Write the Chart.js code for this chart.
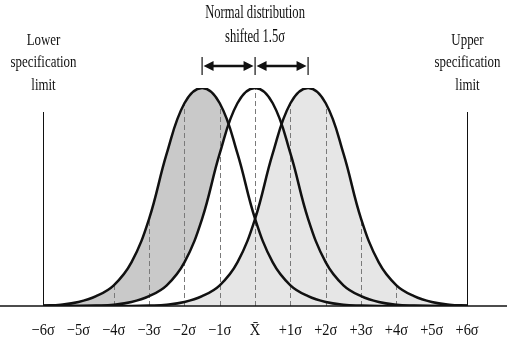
<!DOCTYPE html>
<html>
<head>
<meta charset="utf-8">
<script src="https://cdn.jsdelivr.net/npm/chart.js@4.4.0/dist/chart.umd.min.js"></script>
<style>
  body { margin: 0; background: #fff; }
</style>
</head>
<body>
<canvas id="sixSigma" width="507" height="346"></canvas>
<script>
// positions along the axis, in sigma units
var sigmaX = [-6, -5.5, -5, -4.5, -4, -3.5, -3, -2.5, -2, -1.5, -1, -0.5, 0,
              0.5, 1, 1.5, 2, 2.5, 3, 3.5, 4, 4.5, 5, 5.5, 6];

// curve heights (peak = 1)
var shiftedLeft = [0.002, 0.006, 0.018, 0.045, 0.095, 0.2, 0.4, 0.7, 0.93, 1, 0.93, 0.7, 0.4,
                   0.2, 0.095, 0.045, 0.018, 0.006, 0.002, 0, 0, 0, 0, 0, 0];
var centered = [0, 0, 0, 0.002, 0.006, 0.018, 0.045, 0.095, 0.2, 0.4, 0.7, 0.93, 1,
                0.93, 0.7, 0.4, 0.2, 0.095, 0.045, 0.018, 0.006, 0.002, 0, 0, 0];
var shiftedRight = [0, 0, 0, 0, 0, 0, 0.002, 0.006, 0.018, 0.045, 0.095, 0.2, 0.4,
                    0.7, 0.93, 1, 0.93, 0.7, 0.4, 0.2, 0.095, 0.045, 0.018, 0.006, 0.002];

var tickValues = [-6, -5, -4, -3, -2, -1, 0, 1, 2, 3, 4, 5, 6];
var tickLabels = ['\u22126\u03c3', '\u22125\u03c3', '\u22124\u03c3', '\u22123\u03c3', '\u22122\u03c3', '\u22121\u03c3',
                  'X\u0304', '+1\u03c3', '+2\u03c3', '+3\u03c3', '+4\u03c3', '+5\u03c3', '+6\u03c3'];
var dashedAt = [-4, -3, -2, -1, 0, 1, 2, 3, 4];
var shiftMarks = [-1.5, 0, 1.5];
var specLimits = [-6, 6];

function toPoints(vals) {
    return vals.map(function (v, i) { return { x: sigmaX[i], y: v }; });
}

function condensedText(ctx, text, x, y, size, squeeze) {
    ctx.save();
    ctx.translate(x, y);
    ctx.scale(squeeze, 1);
    ctx.font = size + 'px "Liberation Serif"';
    ctx.fillStyle = '#111';
    ctx.textAlign = 'center';
    ctx.textBaseline = 'middle';
    ctx.fillText(text, 0, 0);
    ctx.restore();
}

function arrowHead(ctx, x, y, dir) {
    ctx.beginPath();
    ctx.moveTo(x, y);
    ctx.lineTo(x - dir * 10, y - 5);
    ctx.lineTo(x - dir * 10, y + 5);
    ctx.closePath();
    ctx.fill();
}

var extras = {
    id: 'extras',
    beforeDatasetsDraw: function (chart) {
        var ctx = chart.ctx, xs = chart.scales.x, ys = chart.scales.y;
        ctx.save();
        ctx.strokeStyle = '#7a7a7a';
        ctx.lineWidth = 1;
        ctx.setLineDash([5, 3]);
        dashedAt.forEach(function (v) {
            var i = sigmaX.indexOf(v);
            var top = Math.max(shiftedLeft[i], centered[i], shiftedRight[i]);
            var px = Math.round(xs.getPixelForValue(v)) + 0.5;
            ctx.beginPath();
            ctx.moveTo(px, ys.getPixelForValue(0));
            ctx.lineTo(px, ys.getPixelForValue(top));
            ctx.stroke();
        });
        ctx.restore();
    },
    afterDraw: function (chart) {
        var ctx = chart.ctx, xs = chart.scales.x, ys = chart.scales.y;
        var base = ys.getPixelForValue(0);
        ctx.save();

        // axis line
        ctx.strokeStyle = '#111';
        ctx.lineWidth = 1.5;
        ctx.beginPath();
        ctx.moveTo(0, base);
        ctx.lineTo(chart.width, base);
        ctx.stroke();

        // specification limits
        ctx.lineWidth = 1;
        specLimits.forEach(function (v) {
            var px = Math.round(xs.getPixelForValue(v)) + 0.5;
            ctx.beginPath();
            ctx.moveTo(px, 112);
            ctx.lineTo(px, base);
            ctx.stroke();
            condensedText(ctx, v < 0 ? 'Lower' : 'Upper', px, 41, 17, 0.76);
            condensedText(ctx, 'specification', px, 63, 17, 0.76);
            condensedText(ctx, 'limit', px, 86, 17, 0.76);
        });

        // tick labels
        tickValues.forEach(function (v, i) {
            condensedText(ctx, tickLabels[i], xs.getPixelForValue(v), 331, 17, 0.85);
        });

        // shift arrows
        var ay = 66;
        var pts = shiftMarks.map(function (v) { return xs.getPixelForValue(v); });
        ctx.fillStyle = '#111';
        ctx.lineWidth = 1.2;
        pts.forEach(function (px) {
            ctx.beginPath();
            ctx.moveTo(px, 57);
            ctx.lineTo(px, 75);
            ctx.stroke();
        });
        ctx.lineWidth = 2.5;
        for (var k = 0; k < pts.length - 1; k++) {
            ctx.beginPath();
            ctx.moveTo(pts[k] + 6, ay);
            ctx.lineTo(pts[k + 1] - 6, ay);
            ctx.stroke();
            arrowHead(ctx, pts[k] + 1.5, ay, -1);
            arrowHead(ctx, pts[k + 1] - 1.5, ay, 1);
        }

        condensedText(ctx, 'Normal distribution', xs.getPixelForValue(0), 13, 18, 0.7);
        condensedText(ctx, 'shifted 1.5\u03c3', xs.getPixelForValue(0), 37, 18, 0.7);
        ctx.restore();
    }
};

function curve(vals, fillColor) {
    return {
        data: toPoints(vals),
        borderColor: '#111',
        borderWidth: 2.5,
        backgroundColor: fillColor,
        fill: 'origin',
        pointRadius: 0,
        tension: 0.4
    };
}

new Chart(document.getElementById('sixSigma').getContext('2d'), {
    type: 'line',
    data: {
        // fills are painted from the last dataset to the first
        datasets: [
            curve(shiftedRight, '#e6e6e6'),
            curve(centered, '#ffffff'),
            curve(shiftedLeft, '#c9c9c9')
        ]
    },
    options: {
        responsive: false,
        animation: false,
        layout: { padding: { top: 88, bottom: 40, left: 0, right: 0 } },
        scales: {
            x: { type: 'linear', min: -7.22, max: 7.13, display: false },
            y: { min: 0, max: 1, display: false }
        },
        plugins: {
            legend: { display: false },
            tooltip: { enabled: false },
            filler: { drawTime: 'beforeDatasetsDraw' }
        }
    },
    plugins: [extras]
});
</script>
</body>
</html>
